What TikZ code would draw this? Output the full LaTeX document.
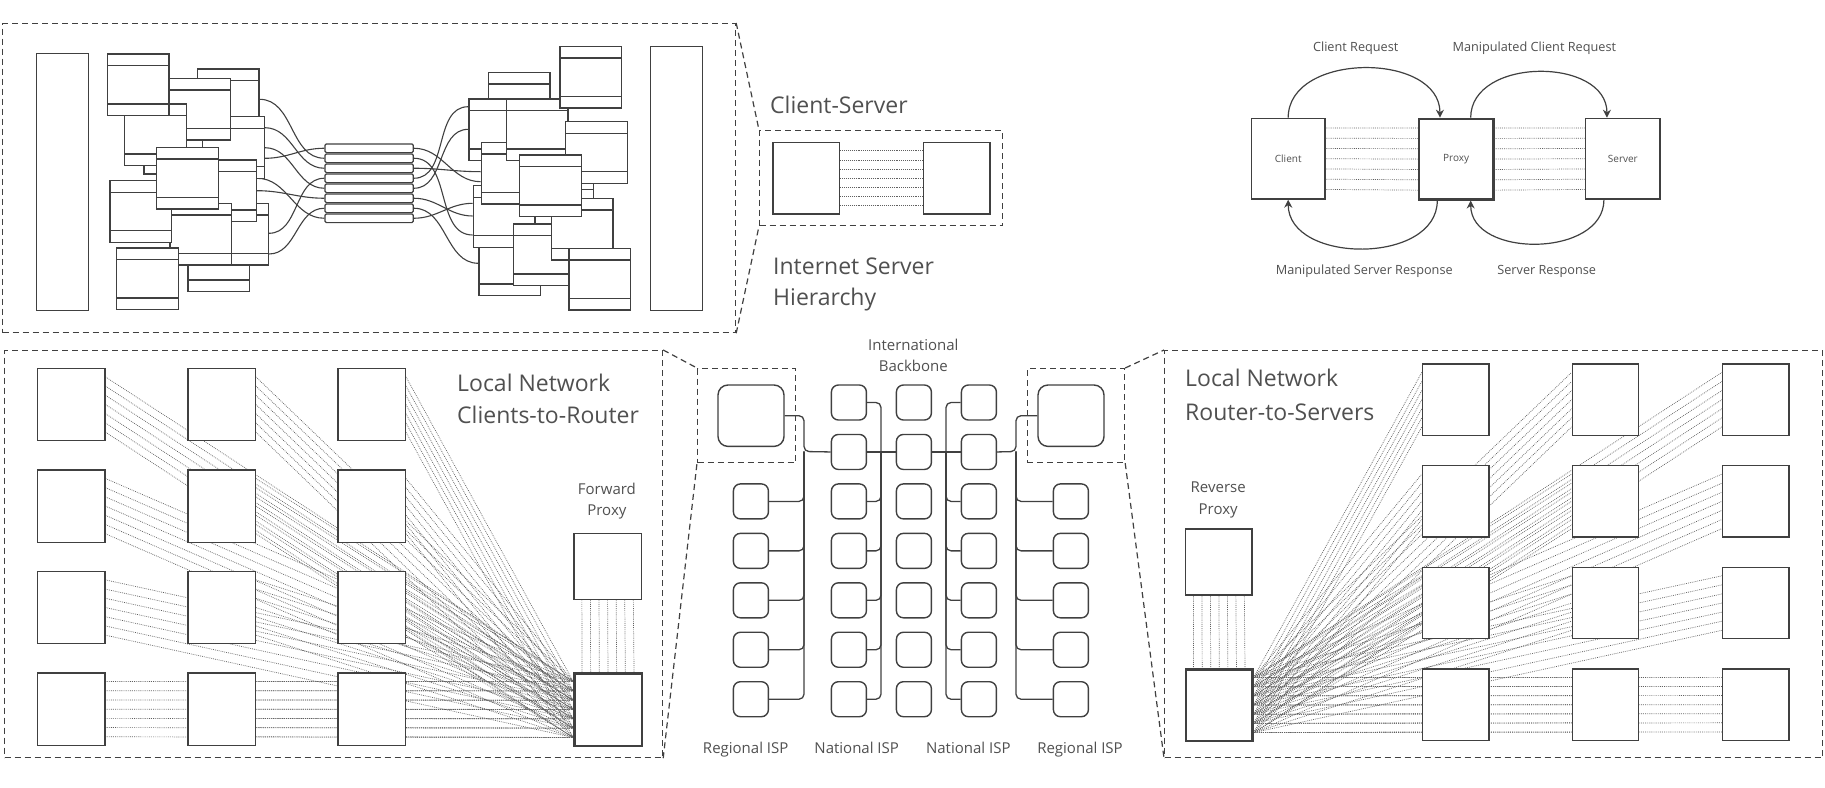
\documentclass[tikz,border=0pt]{standalone}
\usepackage{fontspec}
\setmainfont{Open Sans}
\usetikzlibrary{calc,arrows.meta}
\pgfdeclarelayer{bg}
\pgfsetlayers{bg,main}
\definecolor{linecol}{RGB}{64,64,64}
\definecolor{textcol}{RGB}{80,80,80}
\definecolor{dotcol}{RGB}{95,95,95}
\newcommand\fbig{\fontsize{23}{28}\selectfont}
\newcommand\fmid{\fontsize{15}{18}\selectfont}
\newcommand\fsml{\fontsize{12.7}{15}\selectfont}
\newcommand\ftny{\fontsize{10}{12}\selectfont}
\tikzset{
  panel/.style={draw=linecol, line width=1.2pt, dash pattern=on 6pt off 4pt, anchor=north west, inner sep=0pt},
  slant/.style={draw=linecol, line width=1.2pt, dash pattern=on 6pt off 4pt},
  sq/.style={draw=linecol, fill=white, line width=1.4pt, anchor=north west, inner sep=0pt},
  sqthick/.style={sq, line width=2.2pt},
  rbig/.style={sq, rounded corners=10pt},
  rsmall/.style={sq, rounded corners=7pt, minimum width=35pt, minimum height=35pt},
  tbl/.style={draw=linecol, fill=white, line width=1.2pt, anchor=north west, inner sep=0pt,
    minimum width=61.7pt, minimum height=61.7pt,
    path picture={\draw[linecol,line width=1.2pt]
      ([yshift=-11.7pt]path picture bounding box.north west) -- ([yshift=-11.7pt]path picture bounding box.north east)
      ([yshift=11.7pt]path picture bounding box.south west) -- ([yshift=11.7pt]path picture bounding box.south east);}},
  rowbox/.style={draw=linecol, fill=white, line width=1.2pt, rounded corners=1.5pt, anchor=north west, inner sep=0pt,
    minimum width=88.4pt, minimum height=8.7pt},
  curve/.style={draw=linecol, line width=1.1pt},
  dotline/.style={draw=dotcol, line width=0.7pt, dash pattern=on 0.8pt off 1.1pt},
  solidline/.style={draw=linecol, line width=1.3pt, rounded corners=5pt},
  arr/.style={draw=linecol, line width=1.2pt, -{Stealth[length=8pt,width=8pt]}},
  lbl/.style={text=textcol, inner sep=0pt},
}
\begin{document}
\begin{tikzpicture}[x=1pt,y=-1pt]
\useasboundingbox (0,0) rectangle (1825,787);

% ================= Top-left panel =================
\node[panel, minimum width=733pt, minimum height=309pt] (P1) at (2,23) {};
\node[sq, minimum width=52pt, minimum height=257pt] (TL) at (36,53) {};
\node[sq, minimum width=52pt, minimum height=264pt] (TR) at (650,46) {};
\foreach \n/\x/\y in {L13/143.3/111.7, L3/196.7/68.3, L12/187.3/229.3, L10/206/202.7, L5/202/116,
  L7/194.3/159.3, L9/169.3/202.7, L8/109.3/180, L11/116/247.3, L2/168.3/77.7, L4/124/103.3,
  L1/106.7/53.3, L6/156/146.7}
  \node[tbl] (\n) at (\x,\y) {};
\foreach \n/\x/\y in {R13/531/139, R2/487.7/71.7, R3/468.3/98.3, R11/478.3/233.3, R8/472.7/185,
  R5/480.7/141.7, R4/505.7/98.3, R6/565/121, R1/559.3/45.7, R10/512.7/223.3, R9/550.7/197.7,
  R7/519/154.3, R12/568.3/247.7}
  \node[tbl] (\n) at (\x,\y) {};
\foreach \i in {1,...,8}
  \node[rowbox] (B\i) at (324.3,{143.3+10*(\i-1)}) {};
\begin{pgfonlayer}{bg}
\draw[curve] ($(L3.north east)+(0,31)$) to[out=0,in=180] (B2.west);
\draw[curve] ($(L5.north east)+(0,11.7)$) to[out=0,in=180] (B3.west);
\draw[curve] ($(L5.north east)+(0,31.7)$) to[out=0,in=180] (B5.west);
\draw[curve] ($(L5.north east)+(0,42.3)$) to[out=0,in=180] (B1.west);
\draw[curve] ($(L7.north east)+(0,19)$) to[out=0,in=180] (B8.west);
\draw[curve] ($(L7.north east)+(0,31.4)$) to[out=0,in=180] (B6.west);
\draw[curve] ($(L10.north east)+(0,30.6)$) to[out=0,in=180] (B4.west);
\draw[curve] ($(L10.north east)+(0,51.3)$) to[out=0,in=180] (B7.west);
\draw[curve] (B1.east) to[out=0,in=180] ($(R5.north west)+(0,40)$);
\draw[curve] (B2.east) to[out=0,in=180] ($(R8.north west)+(0,50)$);
\draw[curve] (B3.east) to[out=0,in=180] ($(R5.north west)+(0,30)$);
\draw[curve] (B4.east) to[out=0,in=180] ($(R3.north west)+(0,8.4)$);
\draw[curve] (B5.east) to[out=0,in=180] ($(R3.north west)+(0,31)$);
\draw[curve] (B6.east) to[out=0,in=180] ($(R8.north west)+(0,31)$);
\draw[curve] (B7.east) to[out=0,in=180] ($(R11.north west)+(0,30)$);
\draw[curve] (B8.east) to[out=0,in=180] ($(R8.north west)+(0,18.3)$);
\end{pgfonlayer}

% ================= Client-Server =================
\node[panel, minimum width=243pt, minimum height=95pt] (CS) at (759,130) {};
\node[sq, minimum width=66.7pt, minimum height=71.6pt] (csA) at (772.3,141.7) {};
\node[sq, minimum width=66.7pt, minimum height=71.6pt] (csB) at (922.7,141.7) {};
\foreach \k in {1,...,7}
  \draw[dotline] ($(csA.north east)!\k/8!(csA.south east)$) -- ($(csB.north west)!\k/8!(csB.south west)$);
\draw[slant] (P1.north east) -- (CS.north west);
\draw[slant] (P1.south east) -- (CS.south west);
\node[lbl, anchor=base west] (tCS) at (770,113.3) {\fbig Client-Server};
\node[lbl, anchor=base west] (tIS1) at (773,274) {\fbig Internet Server};
\node[lbl, anchor=base west] (tIS2) at (773,305.5) {\fbig Hierarchy};

% ================= Proxy diagram =================
\node[sq, minimum width=73.6pt, minimum height=80.6pt] (CL) at (1250.7,117.7) {};
\node[sqthick, minimum width=74.6pt, minimum height=80.6pt] (PX) at (1417.7,117.7) {};
\node[sq, minimum width=74.3pt, minimum height=80.6pt] (SV) at (1585,117.7) {};
\node[lbl] at (CL.center) {\ftny Client};
\node[lbl] at (PX.center) {\ftny Proxy};
\node[lbl] at (SV.center) {\ftny Server};
\foreach \k in {1,...,7} {
  \draw[dotline] ($(CL.north east)!\k/8!(CL.south east)$) -- ($(PX.north west)!\k/8!(PX.south west)$);
  \draw[dotline] ($(PX.north east)!\k/8!(PX.south east)$) -- ($(SV.north west)!\k/8!(SV.south west)$);
}
\draw[arr] ($(CL.north west)!0.5!(CL.north east)$) .. controls +(0,-66) and +(0,-66) .. ($(PX.north west)!0.29!(PX.north east)$);
\draw[arr] ($(PX.north west)!0.69!(PX.north east)$) .. controls +(0,-61) and +(0,-61) .. ($(SV.north west)!0.29!(SV.north east)$);
\draw[arr] ($(PX.south west)!0.255!(PX.south east)$) .. controls +(0,64.5) and +(0,64.5) .. ($(CL.south west)!0.5!(CL.south east)$);
\draw[arr] ($(SV.south west)!0.25!(SV.south east)$) .. controls +(0,58) and +(0,58) .. ($(PX.south west)!0.69!(PX.south east)$);
\node[lbl, anchor=base] (t1) at (1355.7,51.7) {\fsml Client Request};
\node[lbl, anchor=base] (t2) at (1534.3,51.7) {\fsml Manipulated Client Request};
\node[lbl, anchor=base] (t3) at (1364.3,274) {\fsml Manipulated Server Response};
\node[lbl, anchor=base] (t4) at (1546.7,274) {\fsml Server Response};

% ================= Bottom-left panel =================
\node[panel, minimum width=658pt, minimum height=407pt] (P2) at (4,350) {};
\foreach \r/\y in {1/367.7,2/469.3,3/570.7,4/672.3}
  \foreach \c/\x in {1/36.9,2/187.3,3/337.4}
    \node[sq, minimum width=67.2pt, minimum height=72.3pt] (a\r\c) at (\x,\y) {};
\node[sqthick, minimum width=67.2pt, minimum height=72.3pt] (RT1) at (573.3,672.3) {};
\node[sq, minimum width=67.2pt, minimum height=66.3pt] (FP) at (573.3,532.7) {};
\begin{pgfonlayer}{bg}
\foreach \r in {1,...,4}
  \foreach \c in {1,2,3}
    \foreach \k in {1,...,7}
      \draw[dotline] ($(a\r\c.north east)!\k/8!(a\r\c.south east)$) -- ($(RT1.north west)!\k/8!(RT1.south west)$);
\foreach \k in {1,...,7}
  \draw[dotline] ($(FP.south west)!\k/8!(FP.south east)$) -- ($(RT1.north west)!\k/8!(RT1.north east)$);
\end{pgfonlayer}
\node[lbl, anchor=base west] (tL1) at (457,391.7) {\fbig Local Network};
\node[lbl, anchor=base west] (tL2) at (457,423.3) {\fbig Clients-to-Router};
\node[lbl, anchor=base] (tF1) at (606.9,494) {\fmid Forward};
\node[lbl, anchor=base] (tF2) at (606.9,515.5) {\fmid Proxy};

% ================= Middle panel =================
\node[panel, minimum width=98pt, minimum height=94pt] (SL) at (697,368) {};
\node[panel, minimum width=97.3pt, minimum height=94pt] (SR) at (1026.7,368) {};
\draw[slant] (P2.north east) -- (SL.north west);
\draw[slant] (P2.south east) -- (SL.south west);
\node[rbig, minimum width=66pt, minimum height=61.4pt] (BL) at (717.3,384.3) {};
\node[rbig, minimum width=66pt, minimum height=61.4pt] (BR) at (1037.3,384.3) {};
\foreach \i in {1,...,7} {
  \node[rsmall] (n1r\i) at (830.7,{384.3+49.45*(\i-1)}) {};
  \node[rsmall] (bb\i) at (895.7,{384.3+49.45*(\i-1)}) {};
  \node[rsmall] (n2r\i) at (960.7,{384.3+49.45*(\i-1)}) {};
}
\foreach \i in {3,...,7} {
  \node[rsmall] (rl\i) at (732.7,{384.3+49.45*(\i-1)}) {};
  \node[rsmall] (rr\i) at (1052.7,{384.3+49.45*(\i-1)}) {};
}
\coordinate (jl) at (804,451.5);
\coordinate (jn1) at (881,451.5);
\coordinate (jn2) at (946,451.5);
\coordinate (jr) at (1016,451.5);
\begin{pgfonlayer}{bg}
\draw[solidline] (BL.east) -| (jl) -- (n1r2.west);
\draw[solidline] (n1r2.east) -- (bb2.west);
\draw[solidline] (bb2.east) -- (n2r2.west);
\draw[solidline] (BR.west) -| (jr) -- (n2r2.east);
\foreach \i in {3,...,7} {
  \draw[solidline] (rl\i.east) -| (jl);
  \draw[solidline] (rr\i.west) -| (jr);
}
\foreach \i in {1,3,4,5,6,7} {
  \draw[solidline] (n1r\i.east) -| (jn1);
  \draw[solidline] (n2r\i.west) -| (jn2);
}
\end{pgfonlayer}
\node[lbl, anchor=base] (tIB1) at (913.3,350.7) {\fmid International};
\node[lbl, anchor=base] (tIB2) at (913.3,371.7) {\fmid Backbone};
\node[lbl, anchor=base] (tR1) at (745.7,753.3) {\fmid Regional ISP};
\node[lbl, anchor=base] (tN1) at (856.7,753.3) {\fmid National ISP};
\node[lbl, anchor=base] (tN2) at (968.3,753.3) {\fmid National ISP};
\node[lbl, anchor=base] (tR2) at (1080,753.3) {\fmid Regional ISP};

% ================= Bottom-right panel =================
\node[panel, minimum width=658pt, minimum height=407pt] (P3) at (1164,350) {};
\draw[slant] (SR.north east) -- (P3.north west);
\draw[slant] (SR.south east) -- (P3.south west);
\foreach \r/\y in {1/363.3,2/465,3/566.7,4/668.3}
  \foreach \c/\x in {1/1421.8,2/1571.6,3/1721.9}
    \node[sq, minimum width=66.4pt, minimum height=71.3pt] (s\r\c) at (\x,\y) {};
\node[sqthick, minimum width=66.4pt, minimum height=71.3pt] (RT2) at (1185,668.3) {};
\node[sq, minimum width=66.4pt, minimum height=66pt] (RP) at (1185,528.3) {};
\begin{pgfonlayer}{bg}
\foreach \r in {1,...,4}
  \foreach \c in {1,2,3}
    \foreach \k in {1,...,7}
      \draw[dotline] ($(RT2.north east)!\k/8!(RT2.south east)$) -- ($(s\r\c.north west)!\k/8!(s\r\c.south west)$);
\foreach \k in {1,...,7}
  \draw[dotline] ($(RP.south west)!\k/8!(RP.south east)$) -- ($(RT2.north west)!\k/8!(RT2.north east)$);
\end{pgfonlayer}
\node[lbl, anchor=base west] (tL3) at (1185,386.7) {\fbig Local Network};
\node[lbl, anchor=base west] (tL4) at (1185,420) {\fbig Router-to-Servers};
\node[lbl, anchor=base] (tRP1) at (1218.2,492.3) {\fmid Reverse};
\node[lbl, anchor=base] (tRP2) at (1218.2,514) {\fmid Proxy};
\end{tikzpicture}
\end{document}
